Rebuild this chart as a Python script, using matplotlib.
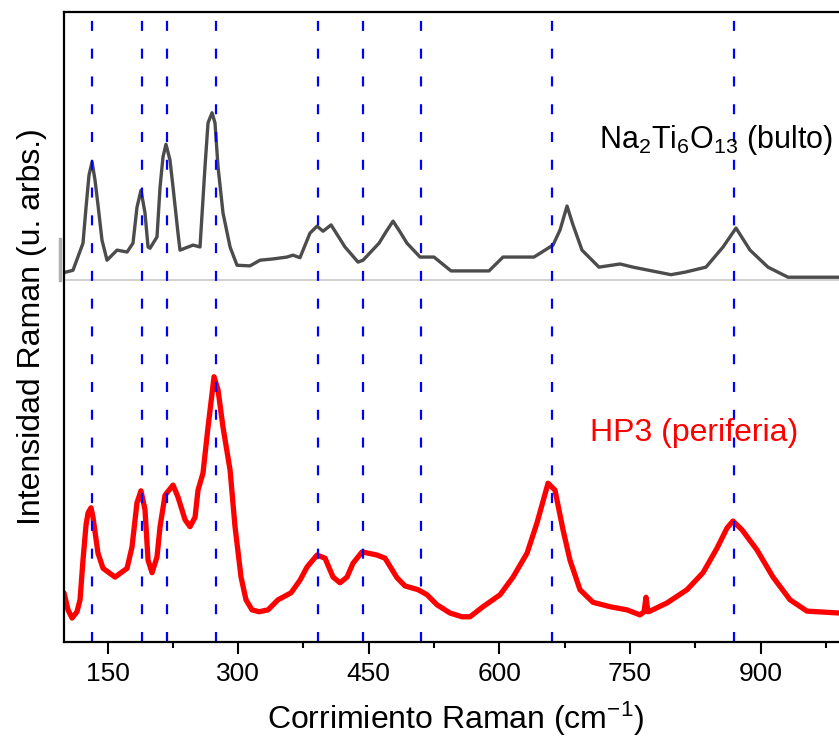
import numpy as np
import matplotlib
matplotlib.use('Agg')
import matplotlib.pyplot as plt

plt.rcParams['font.family'] = ['Liberation Sans', 'DejaVu Sans']
plt.rcParams['mathtext.default'] = 'regular'

# espectro Na2Ti6O13 (bulto) - desplazamiento Raman (cm-1), intensidad (u. arb.)
bulk_x = [98.9, 110.3, 121.8, 125.3, 128.7, 132.2, 135.6, 139.0, 143.6, 149.4,
          160.9, 172.4, 179.2, 183.8, 188.4, 193.0, 196.5, 198.8, 206.8, 210.3,
          213.7, 217.1, 221.7, 225.2, 230.9, 233.2, 248.2, 256.2, 261.9, 265.4,
          270.0, 273.4, 276.9, 282.6, 290.7, 298.7, 313.6, 325.1, 340.0, 356.1,
          363.0, 371.0, 382.5, 390.6, 397.5, 406.7, 422.7, 437.7, 443.4, 461.8,
          469.8, 477.9, 485.9, 493.9, 508.9, 524.9, 544.5, 588.1, 604.2, 639.8,
          661.6, 669.7, 677.7, 684.6, 694.9, 714.4, 738.6, 753.5, 797.1, 813.2,
          837.3, 856.9, 871.8, 887.9, 908.5, 931.5, 990.1]
bulk_y = [58.6, 59.0, 63.3, 69.0, 74.1, 76.2, 73.3, 69.4, 63.8, 60.6,
          62.2, 61.9, 63.3, 69.0, 71.7, 68.1, 62.7, 62.5, 64.3, 72.2,
          77.0, 79.0, 76.5, 72.2, 64.9, 62.2, 63.0, 62.7, 75.4, 82.4,
          84.0, 82.4, 75.4, 68.1, 62.7, 59.8, 59.7, 60.6, 60.8, 61.1,
          61.4, 61.0, 64.9, 66.0, 65.2, 66.2, 62.7, 60.3, 60.6, 63.3,
          65.1, 66.8, 65.1, 63.3, 61.1, 61.1, 58.9, 58.9, 61.1, 61.1,
          63.0, 65.4, 69.2, 66.2, 62.2, 59.5, 60.0, 59.5, 58.3, 58.7,
          59.5, 62.7, 65.7, 62.2, 59.5, 57.9, 57.9]

# espectro HP3 (periferia)
hp3_x = [100.0, 104.6, 109.2, 114.9, 118.4, 121.8, 125.3, 127.6, 131.0, 133.3,
         139.0, 144.8, 158.6, 172.4, 178.1, 183.8, 188.4, 193.0, 196.5, 201.1,
         206.8, 210.3, 216.0, 225.2, 230.9, 239.0, 244.7, 250.5, 253.9, 259.6,
         265.4, 272.3, 276.9, 282.6, 290.7, 296.4, 303.3, 309.0, 315.9, 324.0,
         334.3, 345.8, 360.7, 371.0, 379.1, 390.6, 399.8, 409.0, 417.0, 425.0,
         431.9, 442.3, 459.5, 468.7, 482.4, 491.6, 506.6, 516.9, 528.4, 543.3,
         557.1, 566.3, 581.2, 600.8, 615.7, 631.8, 643.2, 655.9, 663.9, 673.1,
         681.1, 692.6, 707.5, 727.1, 746.6, 761.5, 766.2, 768.4, 770.7, 773.0,
         792.5, 815.5, 833.9, 850.0, 861.5, 868.3, 878.7, 895.9, 914.3, 933.8,
         953.3, 990.1]
hp3_y = [7.8, 5.1, 3.8, 4.8, 6.7, 13.0, 18.6, 20.5, 21.3, 19.8,
         14.1, 11.7, 10.3, 11.7, 15.1, 22.1, 24.0, 21.0, 13.0, 11.0,
         13.5, 18.3, 23.3, 24.9, 23.0, 19.4, 18.3, 19.8, 24.1, 26.8,
         34.1, 42.1, 40.0, 34.1, 27.3, 18.3, 10.3, 6.7, 5.1, 4.8,
         5.1, 6.7, 7.8, 9.8, 11.9, 13.8, 13.3, 10.3, 9.4, 10.3,
         12.5, 14.3, 13.8, 13.3, 10.2, 8.9, 8.3, 7.5, 5.9, 4.6,
         4.0, 4.0, 5.6, 7.5, 10.3, 14.1, 18.9, 25.2, 24.1, 17.8,
         13.0, 8.3, 6.3, 5.6, 5.1, 4.3, 4.8, 7.1, 4.8, 4.9,
         6.2, 8.3, 11.0, 14.9, 18.1, 19.2, 17.8, 14.6, 10.3, 6.7,
         4.9, 4.6]

# posiciones de los picos marcados
peaks = [132, 190, 218, 275, 392, 443, 510, 661, 869]

fig = plt.figure(figsize=(8.39, 7.44), dpi=100)
ax = fig.add_axes([0.0763, 0.1371, 0.934, 0.8468])

ax.plot(bulk_x, bulk_y, color='#383838', lw=2.4, alpha=0.9,
        solid_joinstyle='round', solid_capstyle='round')
ax.plot(hp3_x, hp3_y, color='#ff0000', lw=3.8,
        solid_joinstyle='round', solid_capstyle='round')

# linea base gris del espectro escaneado
ax.axhline(57.5, color='#c8c8c8', lw=1.2)
ax.plot([95.4, 95.4], [57.5, 64.0], color='#b0b0b0', lw=2.5, clip_on=False)

for p in peaks:
    ax.plot([p, p], [0, 99], color='#0000ff', lw=1.6, dashes=(4.5, 8.0))

ax.text(704, 33.2, 'HP3 (periferia)', color='#ff0000', fontsize=23, ha='left', va='center')
ax.text(714, 79.7, 'Na$_2$Ti$_6$O$_{13}$ (bulto)', color='black', fontsize=22,
        ha='left', va='center')

ax.set_xlim(100, 1000)
ax.set_ylim(0, 100)
ax.set_xticks([150, 300, 450, 600, 750, 900])
ax.set_xticks(np.arange(225, 1000, 150), minor=True)
ax.set_yticks([])
ax.tick_params(axis='x', which='major', direction='out', length=8.5, width=1.5,
               labelsize=19, pad=6)
ax.tick_params(axis='x', which='minor', direction='out', length=4.5, width=1.5)
for s in ax.spines.values():
    s.set_linewidth(1.6)

ax.set_xlabel('Corrimiento Raman (cm$^{-1}$)', fontsize=23, labelpad=10)
ax.set_ylabel('Intensidad Raman (u. arbs.)', fontsize=23, labelpad=12)

fig.savefig('out.png', dpi=100)
